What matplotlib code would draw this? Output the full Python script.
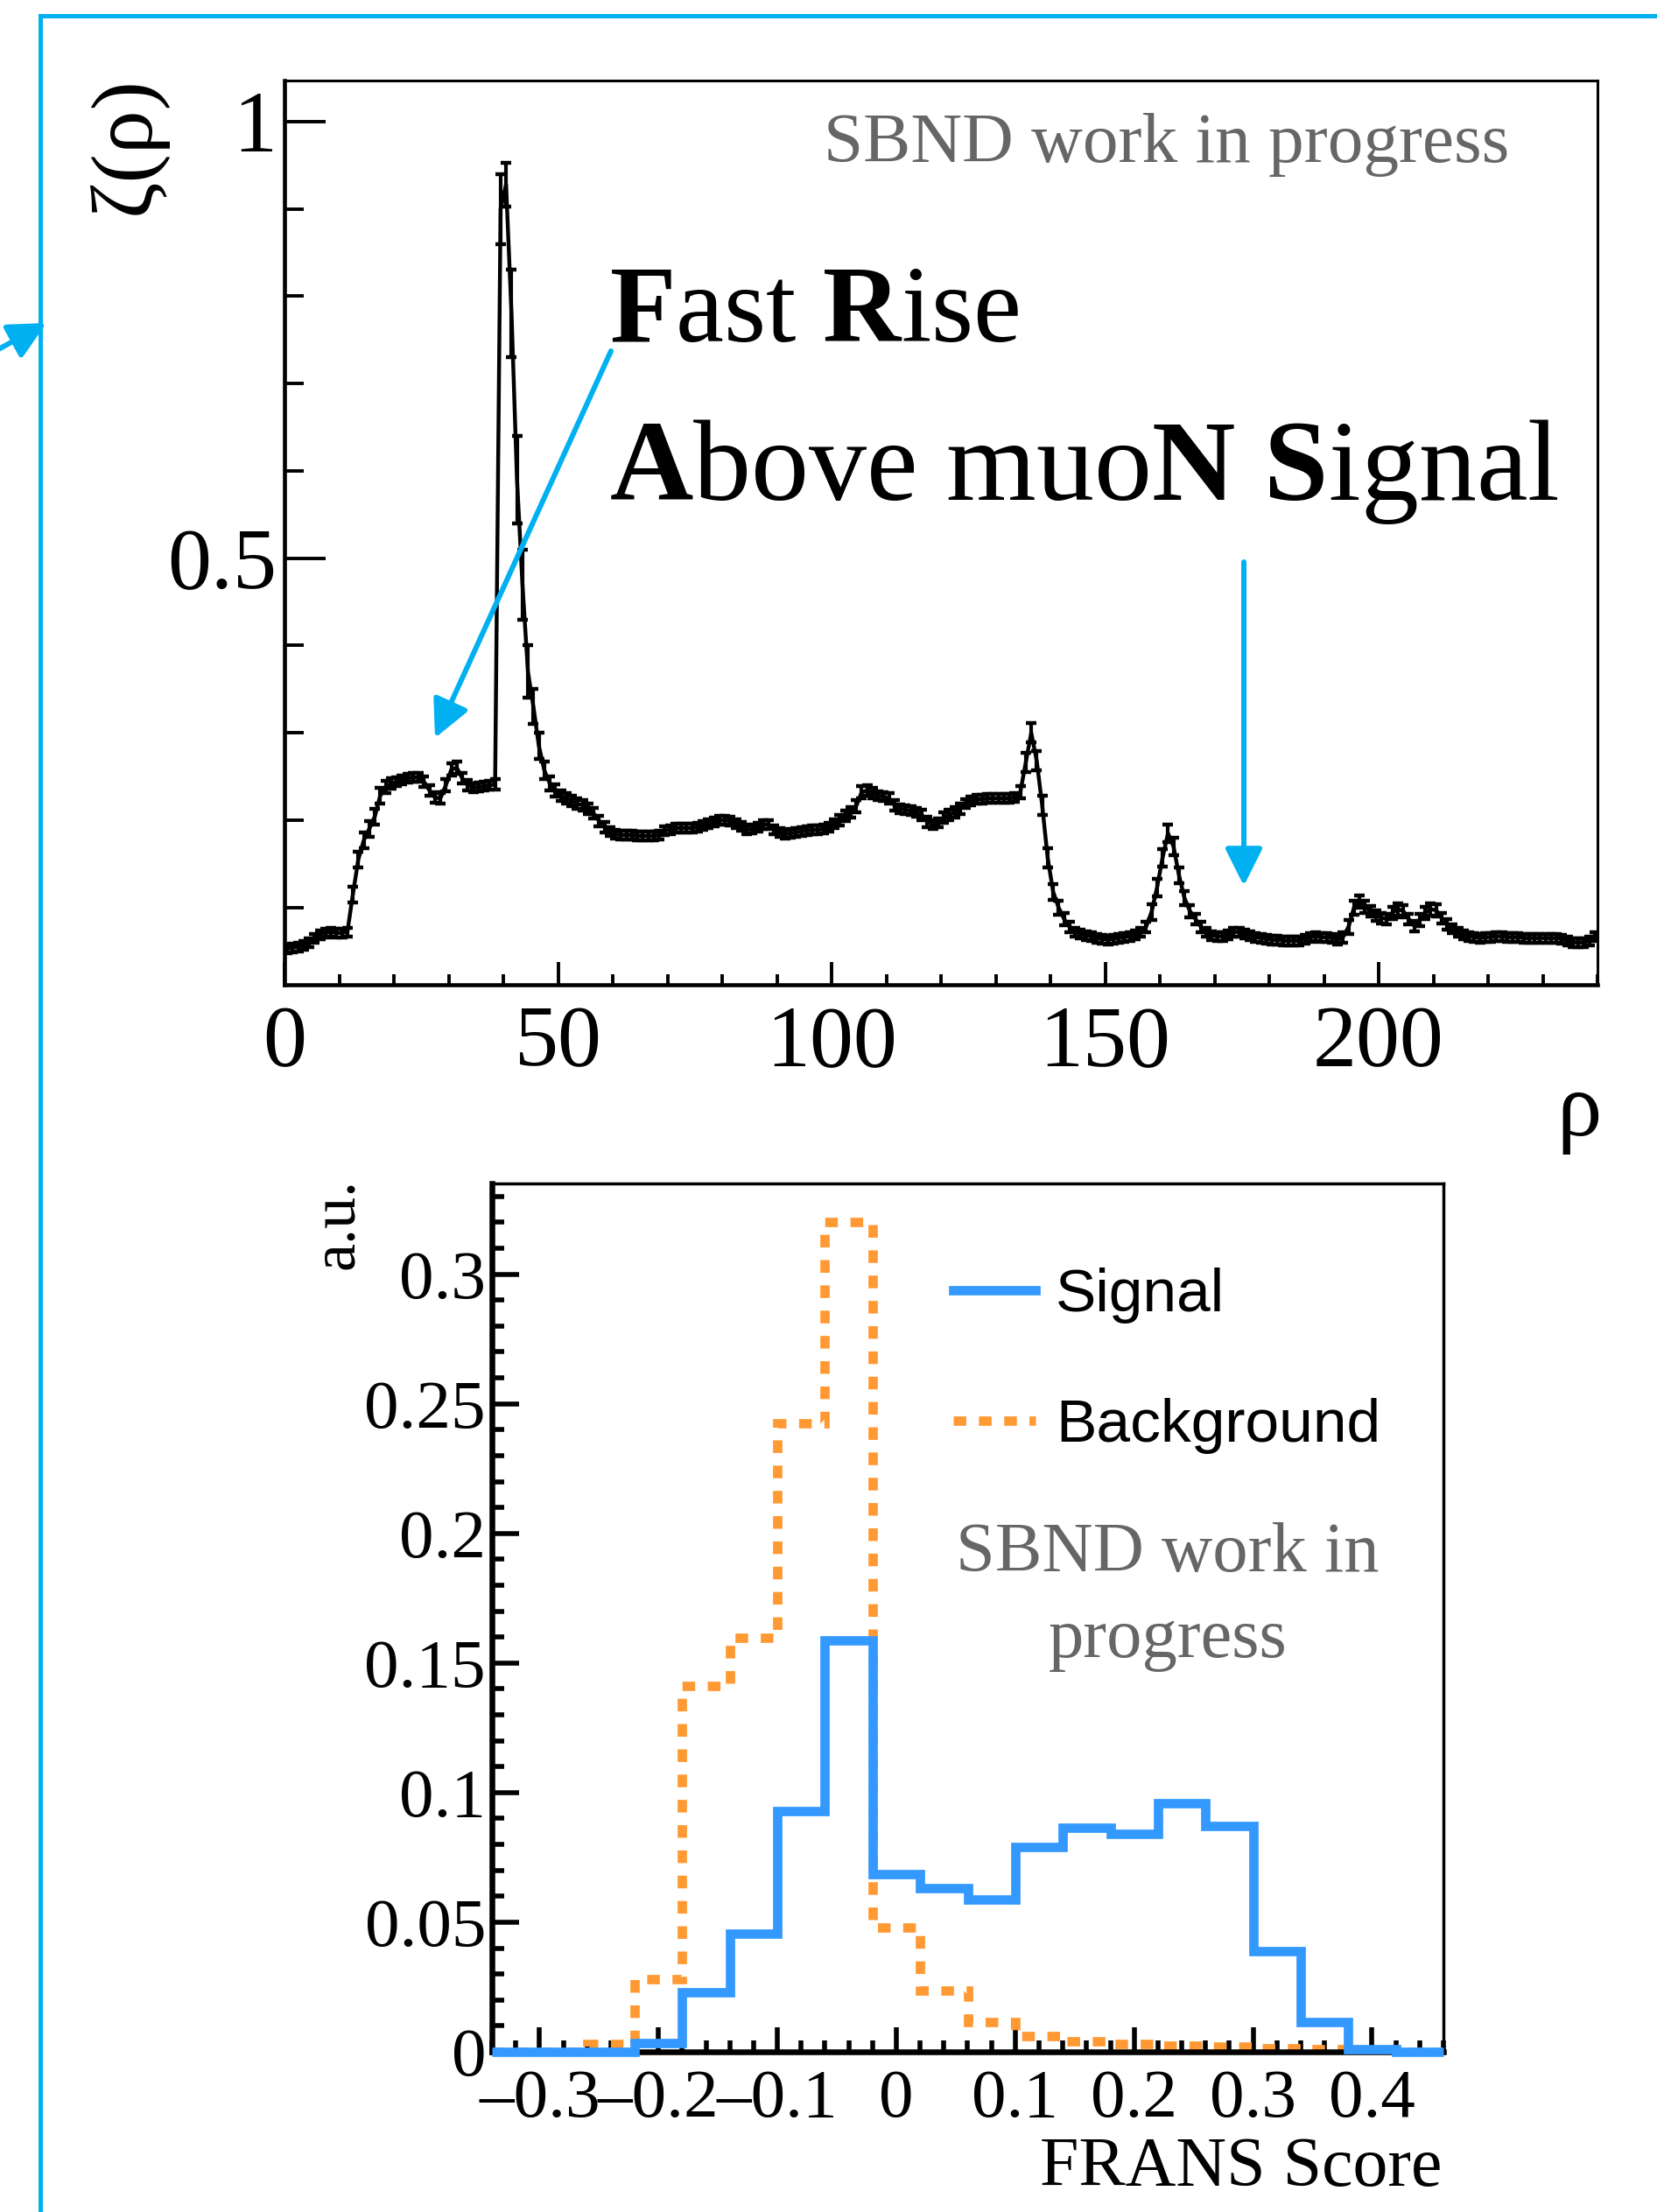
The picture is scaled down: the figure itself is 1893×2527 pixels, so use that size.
import numpy as np
import matplotlib
matplotlib.use("Agg")
import matplotlib.pyplot as plt
from matplotlib.lines import Line2D
from matplotlib.ticker import MultipleLocator, FuncFormatter

plt.rcParams["font.family"] = ["Liberation Serif", "DejaVu Serif"]
plt.rcParams["mathtext.fontset"] = "custom"
plt.rcParams["mathtext.rm"] = "Liberation Serif"
plt.rcParams["mathtext.bf"] = "Liberation Serif:bold"
plt.rcParams["mathtext.it"] = "Liberation Serif:italic"

# ---- top panel: averaged waveform, one bin per unit of rho (0..240) ----
rho = np.arange(0.5, 240.0, 1.0)
zeta = [
    0.053, 0.054, 0.055, 0.057, 0.060, 0.065, 0.069, 0.071, 0.072, 0.071,
    0.071, 0.072, 0.115, 0.155, 0.177, 0.190, 0.204, 0.228, 0.238, 0.242,
    0.244, 0.246, 0.248, 0.249, 0.249, 0.244, 0.234, 0.226, 0.225, 0.240,
    0.258, 0.260, 0.248, 0.240, 0.237, 0.238, 0.239, 0.240, 0.241, 0.900,
    0.928, 0.780, 0.590, 0.470, 0.370, 0.330, 0.285, 0.257, 0.242, 0.234,
    0.228, 0.225, 0.222, 0.219, 0.217, 0.213, 0.208, 0.199, 0.192, 0.187,
    0.184, 0.183, 0.183, 0.183, 0.182, 0.182, 0.182, 0.182, 0.183, 0.188,
    0.189, 0.191, 0.191, 0.191, 0.191, 0.192, 0.194, 0.196, 0.198, 0.200,
    0.200, 0.199, 0.196, 0.193, 0.189, 0.190, 0.192, 0.195, 0.195, 0.189,
    0.186, 0.184, 0.185, 0.186, 0.187, 0.188, 0.189, 0.189, 0.190, 0.192,
    0.196, 0.200, 0.205, 0.209, 0.216, 0.232, 0.234, 0.231, 0.228, 0.227,
    0.225, 0.217, 0.213, 0.212, 0.211, 0.209, 0.206, 0.198, 0.195, 0.197,
    0.203, 0.206, 0.209, 0.213, 0.219, 0.222, 0.224, 0.224, 0.225, 0.225,
    0.225, 0.225, 0.225, 0.226, 0.232, 0.266, 0.300, 0.268, 0.217, 0.157,
    0.118, 0.100, 0.087, 0.078, 0.072, 0.070, 0.068, 0.067, 0.065, 0.064,
    0.063, 0.064, 0.065, 0.066, 0.067, 0.069, 0.072, 0.078, 0.095, 0.123,
    0.157, 0.185, 0.170, 0.137, 0.111, 0.096, 0.087, 0.078, 0.072, 0.068,
    0.067, 0.067, 0.069, 0.072, 0.072, 0.070, 0.068, 0.066, 0.065, 0.064,
    0.063, 0.063, 0.062, 0.062, 0.062, 0.062, 0.064, 0.066, 0.067, 0.066,
    0.066, 0.065, 0.063, 0.066, 0.078, 0.100, 0.107, 0.101, 0.096, 0.091,
    0.088, 0.087, 0.094, 0.098, 0.096, 0.087, 0.079, 0.086, 0.094, 0.098,
    0.097, 0.088, 0.081, 0.076, 0.072, 0.069, 0.067, 0.066, 0.065, 0.066,
    0.066, 0.067, 0.067, 0.066, 0.066, 0.066, 0.065, 0.065, 0.065, 0.065,
    0.065, 0.065, 0.065, 0.064, 0.062, 0.060, 0.060, 0.060, 0.062, 0.067,
]
zeta_err = [
    0.005, 0.005, 0.005, 0.005, 0.005, 0.005, 0.005, 0.005, 0.005, 0.005,
    0.005, 0.005, 0.009, 0.009, 0.009, 0.009, 0.009, 0.009, 0.007, 0.006,
    0.005, 0.005, 0.005, 0.005, 0.005, 0.006, 0.006, 0.006, 0.006, 0.007,
    0.007, 0.007, 0.006, 0.006, 0.005, 0.005, 0.005, 0.005, 0.006, 0.040,
    0.025, 0.050, 0.050, 0.040, 0.030, 0.020, 0.015, 0.010, 0.008, 0.007,
    0.006, 0.006, 0.006, 0.006, 0.006, 0.006, 0.006, 0.006, 0.006, 0.005,
    0.005, 0.005, 0.005, 0.005, 0.005, 0.005, 0.005, 0.005, 0.005, 0.005,
    0.005, 0.005, 0.005, 0.005, 0.005, 0.005, 0.005, 0.005, 0.005, 0.005,
    0.005, 0.005, 0.005, 0.005, 0.005, 0.005, 0.005, 0.005, 0.005, 0.005,
    0.005, 0.005, 0.005, 0.005, 0.005, 0.005, 0.005, 0.005, 0.005, 0.005,
    0.005, 0.006, 0.006, 0.006, 0.007, 0.007, 0.006, 0.006, 0.005, 0.005,
    0.006, 0.006, 0.005, 0.005, 0.005, 0.005, 0.006, 0.006, 0.005, 0.005,
    0.006, 0.006, 0.006, 0.006, 0.005, 0.005, 0.005, 0.005, 0.005, 0.005,
    0.005, 0.005, 0.005, 0.005, 0.007, 0.011, 0.011, 0.011, 0.011, 0.011,
    0.009, 0.008, 0.007, 0.006, 0.005, 0.005, 0.005, 0.005, 0.005, 0.005,
    0.005, 0.005, 0.005, 0.005, 0.005, 0.005, 0.005, 0.006, 0.009, 0.010,
    0.010, 0.010, 0.010, 0.009, 0.008, 0.007, 0.006, 0.006, 0.005, 0.005,
    0.005, 0.005, 0.005, 0.005, 0.005, 0.005, 0.005, 0.005, 0.005, 0.005,
    0.005, 0.005, 0.005, 0.005, 0.005, 0.005, 0.005, 0.005, 0.005, 0.005,
    0.005, 0.005, 0.005, 0.006, 0.008, 0.008, 0.007, 0.007, 0.006, 0.006,
    0.006, 0.006, 0.007, 0.007, 0.007, 0.006, 0.006, 0.007, 0.007, 0.007,
    0.007, 0.006, 0.006, 0.005, 0.005, 0.005, 0.005, 0.005, 0.005, 0.005,
    0.005, 0.005, 0.005, 0.005, 0.005, 0.005, 0.005, 0.005, 0.005, 0.005,
    0.005, 0.005, 0.005, 0.005, 0.005, 0.005, 0.005, 0.005, 0.005, 0.005,
]

# ---- bottom panel: FRANS score distributions ----
frans_edges = [-0.34, -0.30, -0.26, -0.22, -0.18, -0.14, -0.10, -0.06, -0.02,
               0.02, 0.06, 0.10, 0.14, 0.18, 0.22, 0.26, 0.30, 0.34, 0.38,
               0.42, 0.46]
signal = [0.0, 0.0, 0.0, 0.0035, 0.023, 0.0456, 0.093, 0.1587, 0.0684, 0.0633,
          0.0589, 0.0789, 0.0863, 0.0841, 0.0959, 0.0871, 0.039, 0.0116, 0.001, 0.0]
background = [0.0, 0.0, 0.003, 0.0281, 0.141, 0.1597, 0.2426, 0.3201, 0.0481, 0.0236,
              0.0115, 0.006, 0.004, 0.003, 0.0025, 0.002, 0.0013, 0.001, 0.0005, 0.0]

ANNOT = "#00B0F0"
BLUE = "#3399FF"
ORANGE = "#FF9933"
GREY = "#666666"

W, H = 1893, 2527


def fx(px):
    return px / W


def fy(py):
    return 1 - py / H


fig = plt.figure(figsize=(W / 100, H / 100), dpi=100)

# ================= top panel =================
ax1 = fig.add_axes([fx(325), fy(1125), (1825 - 325) / W, (1125 - 92) / H])
ax1.errorbar(rho, zeta, yerr=zeta_err, fmt="-", color="black", lw=3.2,
             elinewidth=3.0, capsize=4.2, capthick=3.2)
ax1.set_xlim(0, 240)
ax1.set_ylim(0.0115, 1.047)
ax1.xaxis.set_major_locator(MultipleLocator(50))
ax1.xaxis.set_minor_locator(MultipleLocator(10))
ax1.set_yticks([0.5, 1.0])
ax1.set_yticklabels(["0.5", "1"])
ax1.yaxis.set_minor_locator(MultipleLocator(0.1))
ax1.tick_params(axis="y", which="major", direction="in", length=34, width=2.8,
                labelsize=72, pad=6, right=False)
ax1.tick_params(axis="y", which="minor", direction="in", length=16, width=2.8, right=False)
ax1.tick_params(axis="x", which="major", direction="in", length=19, width=2.8,
                labelsize=72, pad=17, top=False)
ax1.tick_params(axis="x", which="minor", direction="in", length=8.6, width=2.8, top=False)
for side, w in [("left", 3.3), ("bottom", 3.3), ("top", 2.2), ("right", 2.2)]:
    ax1.spines[side].set_linewidth(w)

fig.text(fx(145), fy(87), "ζ(ρ)", rotation=90, ha="center", va="top", fontsize=72)
fig.text(fx(1830), fy(1272), "ρ", ha="right", va="center", fontsize=74)

fig.text(fx(1724), fy(185), "SBND work in progress", color=GREY, fontsize=58.5,
         ha="right", va="baseline")
fig.text(fx(696), fy(390), r"$\mathbf{F}$ast $\mathbf{R}$ise", fontsize=89,
         ha="left", va="baseline")
fig.text(fx(696), fy(571), r"$\mathbf{A}$bove muo$\mathbf{N}$ $\mathbf{S}$ignal",
         fontsize=95, ha="left", va="baseline")

arrow_style = "-|>,head_length=0.5,head_width=0.25"
for tail, tip in [((698, 401), (497, 843)), ((1421, 642), (1421, 1012)),
                  ((-20, 409), (53, 369))]:
    ax1.annotate("", xy=(fx(tip[0]), fy(tip[1])), xycoords="figure fraction",
                 xytext=(fx(tail[0]), fy(tail[1])), textcoords="figure fraction",
                 annotation_clip=False,
                 arrowprops=dict(arrowstyle=arrow_style, color=ANNOT, lw=4.3,
                                 mutation_scale=52, shrinkA=0, shrinkB=0))

# blue frame from the slide
fig.add_artist(Line2D([fx(46), fx(46)], [0, fy(18)], color=ANNOT, lw=3.6))
fig.add_artist(Line2D([fx(46), 1], [fy(18), fy(18)], color=ANNOT, lw=3.6))

# ================= bottom panel =================
ax2 = fig.add_axes([fx(562), fy(2344), (1649 - 562) / W, (2344 - 1352) / H])
ax2.stairs(background, frans_edges, color=ORANGE, lw=7.7, linestyle=(0, (1.35, 1.35)),
           baseline=None, zorder=2)
ax2.stairs(signal, frans_edges, color=BLUE, lw=7.7, baseline=None, zorder=3,
           clip_on=False)
ax2.set_xlim(-0.34, 0.46)
ax2.set_ylim(0, 0.335)
ax2.xaxis.set_major_locator(MultipleLocator(0.1))
ax2.xaxis.set_minor_locator(MultipleLocator(0.02))
ax2.yaxis.set_major_locator(MultipleLocator(0.05))
ax2.yaxis.set_minor_locator(MultipleLocator(0.01))


def score_fmt(v, pos):
    return f"{round(v, 3):g}".replace("-", "\u2013")


ax2.xaxis.set_major_formatter(FuncFormatter(score_fmt))
ax2.yaxis.set_major_formatter(FuncFormatter(score_fmt))
ax2.tick_params(axis="y", which="major", direction="in", length=22, width=4,
                labelsize=57, pad=5, right=False)
ax2.tick_params(axis="y", which="minor", direction="in", length=10, width=4, right=False)
ax2.tick_params(axis="x", which="major", direction="in", length=20.5, width=4,
                labelsize=57, pad=14, top=False)
ax2.tick_params(axis="x", which="minor", direction="in", length=9.7, width=4, top=False)
for side, w in [("left", 4.7), ("bottom", 4.7), ("top", 2.5), ("right", 2.5)]:
    ax2.spines[side].set_linewidth(w)

fig.text(fx(386), fy(1346), "a.u.", rotation=90, ha="center", va="top", fontsize=52)
fig.text(fx(1647), fy(2497), "FRANS Score", ha="right", va="baseline", fontsize=57.5)

# legend
fig.add_artist(Line2D([fx(1089), fx(1183)], [fy(1474), fy(1474)], color=BLUE, lw=7.7))
fig.add_artist(Line2D([fx(1089), fx(1183)], [fy(1623), fy(1623)], color=ORANGE, lw=7.7,
                      linestyle=(0, (1.35, 1.35))))
fig.text(fx(1206), fy(1498), "Signal", family="Liberation Sans", fontsize=50,
         va="baseline")
fig.text(fx(1206), fy(1647), "Background", family="Liberation Sans", fontsize=50,
         va="baseline")

fig.text(fx(1334), fy(1795), "SBND work in", color=GREY, fontsize=58,
         ha="center", va="baseline")
fig.text(fx(1334), fy(1893), "progress", color=GREY, fontsize=58,
         ha="center", va="baseline")

fig.savefig("out.png", dpi=100)
